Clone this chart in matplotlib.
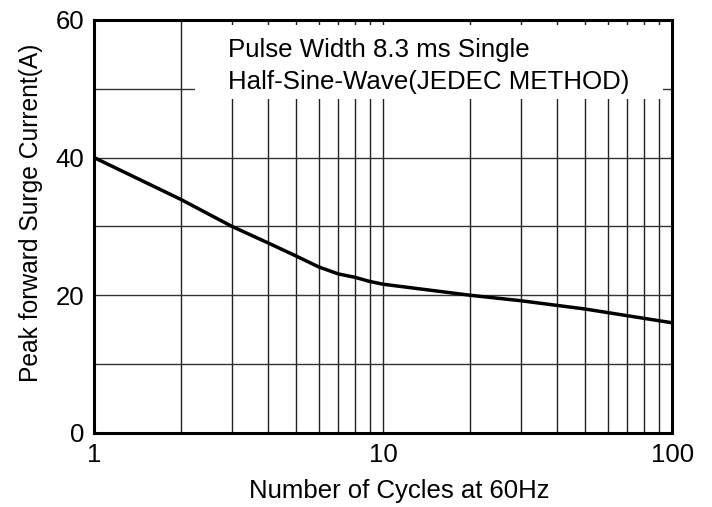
import matplotlib
matplotlib.use("Agg")
import matplotlib.pyplot as plt
from matplotlib.patches import Rectangle

# Surge current curve
cycles = [1, 2, 3, 4, 5, 6, 7, 8, 9, 10, 20, 30, 50, 100]
surge_current = [40, 33.9, 30, 27.6, 25.7, 24.1, 23.1, 22.6, 22.0, 21.6, 20.0, 19.2, 18.0, 16.0]

x_ticks = [1, 10, 100]
x_tick_labels = ["1", "10", "100"]
y_ticks = [0, 20, 40, 60]
x_grid = [2, 3, 4, 5, 6, 7, 8, 9, 10, 20, 30, 40, 50, 60, 70, 80, 90]
y_grid = [10, 20, 30, 40, 50]

note_lines = ["Pulse Width 8.3 ms Single", "Half-Sine-Wave(JEDEC METHOD)"]

plt.rcParams["font.family"] = ["Liberation Sans", "DejaVu Sans"]

fig = plt.figure(figsize=(7.12, 5.07), dpi=100)
ax = fig.add_axes([0.132, 0.146, 0.812, 0.815])

ax.set_xscale("log")
ax.set_xlim(1, 100)
ax.set_ylim(0, 60)

for gx in x_grid:
    ax.axvline(gx, color="#222222", lw=1.0, zorder=1)
for gy in y_grid:
    ax.axhline(gy, color="#333333", lw=1.0, zorder=1)

# white area behind the note, hides the grid there
ax.add_patch(Rectangle((0.175, 0.809), 0.809, 0.179, transform=ax.transAxes,
                       facecolor="white", edgecolor="none", zorder=2))
ax.text(0.232, 0.91, note_lines[0], transform=ax.transAxes, fontsize=18.6,
        va="baseline", ha="left", zorder=3)
ax.text(0.232, 0.833, note_lines[1], transform=ax.transAxes, fontsize=18.6,
        va="baseline", ha="left", zorder=3)

ax.plot(cycles, surge_current, color="black", lw=2.5, zorder=4,
        solid_capstyle="butt")

ax.set_xticks(x_ticks)
ax.set_xticklabels(x_tick_labels)
ax.xaxis.set_minor_locator(plt.NullLocator())
ax.set_yticks(y_ticks)
ax.tick_params(length=0, labelsize=18.5, pad=7)

for side in ax.spines.values():
    side.set_linewidth(2.2)
    side.set_zorder(5)

ax.set_xlabel("Number of Cycles at 60Hz", fontsize=18.5)
ax.set_ylabel("Peak forward Surge Current(A)", fontsize=17.7)
ax.xaxis.set_label_coords(0.528, -0.112)
ax.yaxis.set_label_coords(-0.089, 0.532)

fig.savefig("out.png", dpi=100)
